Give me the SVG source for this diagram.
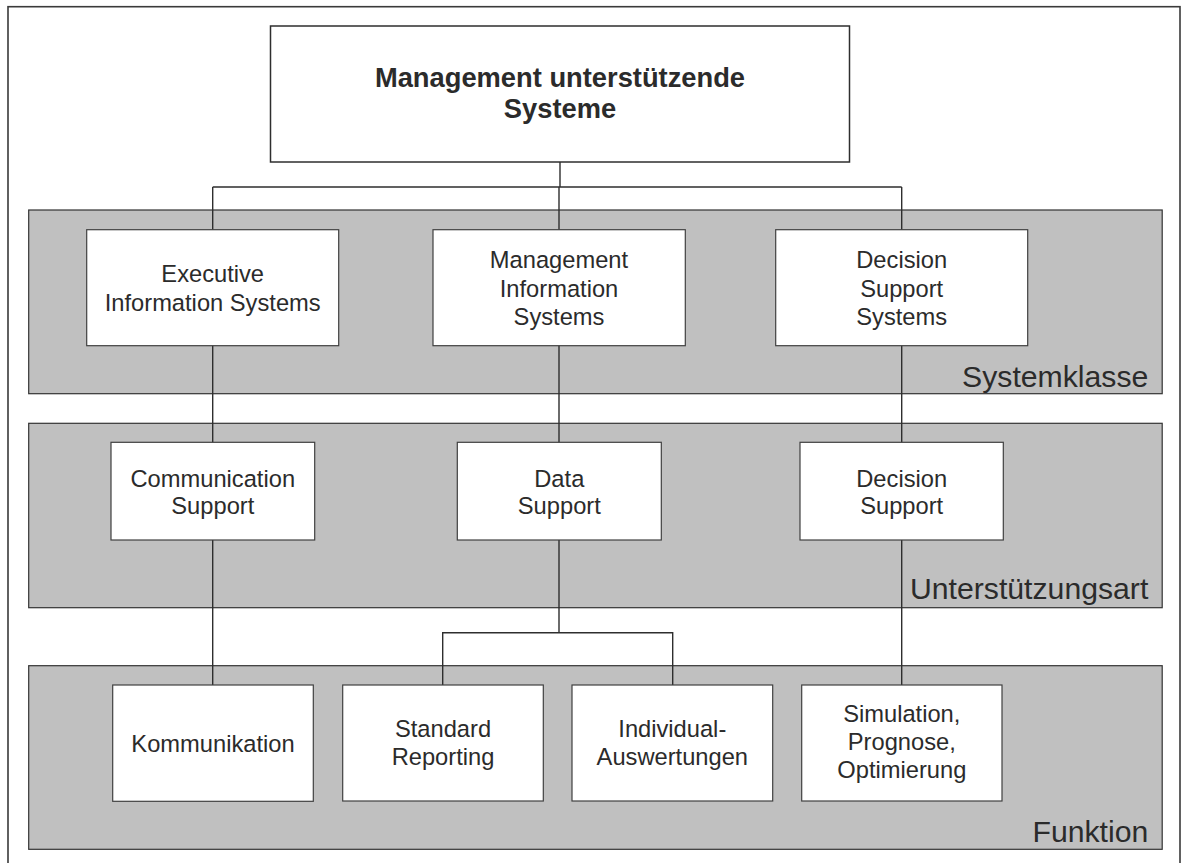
<svg xmlns="http://www.w3.org/2000/svg" width="1185" height="863" viewBox="0 0 1185 863">
<style>
.frame{fill:#fff;stroke:#3a3a3a;stroke-width:1.6}
.band{fill:#c0c0c0;stroke:#333;stroke-width:1.2}
.box{fill:#fff;stroke:#404040;stroke-width:1.2}
.top{fill:#fff;stroke:#2e2e2e;stroke-width:1.5}
.conn{fill:none;stroke:#2e2e2e;stroke-width:1.4}
text{font-family:"Liberation Sans",Arial,sans-serif;fill:#2b2b2b}
.t{font-size:23.7px;text-anchor:middle}
.lbl{font-size:30.2px;text-anchor:end}
.title{font-size:27.3px;font-weight:bold;text-anchor:middle}
</style>
<rect class="frame" x="8" y="6.7" width="1172" height="870"/>
<g id="bands">
<rect id="band-systemklasse" class="band" x="28.7" y="210" width="1133.5" height="183.7"/>
<rect id="band-unterstuetzungsart" class="band" x="28.7" y="423.3" width="1133.5" height="184.4"/>
<rect id="band-funktion" class="band" x="28.7" y="665.7" width="1133.5" height="183.6"/>
<text class="lbl" x="1148.3" y="386.7">Systemklasse</text>
<text class="lbl" x="1148.3" y="599.3">Unterstützungsart</text>
<text class="lbl" x="1148.3" y="841.7">Funktion</text>
</g>
<g id="connectors">
<path class="conn" d="M560 162 V187 M212.7 187 H901.7 M212.7 187 V801 M559 187 V632.7 M442.7 685 V632.7 H672.7 V685 M901.7 187 V685"/>
</g>
<g id="n-mus">
<rect class="top" x="270.5" y="26" width="579" height="136"/>
<text class="title" x="560" y="86.7">Management unterstützende</text>
<text class="title" x="560" y="118.3">Systeme</text>
</g>
<g id="n-eis">
<rect class="box" x="86.7" y="229.7" width="252" height="116"/>
<text class="t" x="212.7" y="281.7">Executive</text>
<text class="t" x="212.7" y="310.7">Information Systems</text>
</g>
<g id="n-mis">
<rect class="box" x="433" y="229.7" width="252.3" height="116"/>
<text class="t" x="559" y="268.3">Management</text>
<text class="t" x="559" y="297">Information</text>
<text class="t" x="559" y="325">Systems</text>
</g>
<g id="n-dss">
<rect class="box" x="775.7" y="229.7" width="252" height="116"/>
<text class="t" x="901.7" y="268.3">Decision</text>
<text class="t" x="901.7" y="297">Support</text>
<text class="t" x="901.7" y="325">Systems</text>
</g>
<g id="n-comm-support">
<rect class="box" x="111" y="442.3" width="203.7" height="97.7"/>
<text class="t" x="212.8" y="486.5">Communication</text>
<text class="t" x="212.8" y="514.3">Support</text>
</g>
<g id="n-data-support">
<rect class="box" x="457.3" y="442.3" width="204" height="97.7"/>
<text class="t" x="559.3" y="486.5">Data</text>
<text class="t" x="559.3" y="514.3">Support</text>
</g>
<g id="n-decision-support">
<rect class="box" x="800" y="442.3" width="203.3" height="97.7"/>
<text class="t" x="901.7" y="486.5">Decision</text>
<text class="t" x="901.7" y="514.3">Support</text>
</g>
<g id="n-kommunikation">
<rect class="box" x="112.7" y="685" width="200.6" height="116.3"/>
<text class="t" x="213" y="751.7">Kommunikation</text>
</g>
<g id="n-standard-reporting">
<rect class="box" x="342.7" y="685" width="200.6" height="116"/>
<text class="t" x="443" y="736.7">Standard</text>
<text class="t" x="443" y="765">Reporting</text>
</g>
<g id="n-individual">
<rect class="box" x="572" y="685" width="200.7" height="116"/>
<text class="t" x="672.3" y="736.7">Individual-</text>
<text class="t" x="672.3" y="765">Auswertungen</text>
</g>
<g id="n-simulation">
<rect class="box" x="801.7" y="685" width="200.3" height="116"/>
<text class="t" x="901.8" y="721.7">Simulation,</text>
<text class="t" x="901.8" y="750">Prognose,</text>
<text class="t" x="901.8" y="778.3">Optimierung</text>
</g>
</svg>
